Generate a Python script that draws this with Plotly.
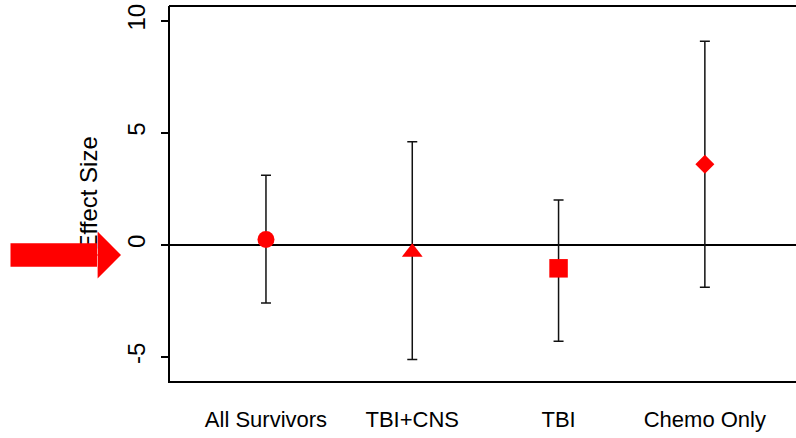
import plotly.graph_objects as go

groups = ["All Survivors", "TBI+CNS", "TBI", "Chemo Only"]
effect = [0.24, -0.33, -1.05, 3.6]
ci_low = [-2.6, -5.12, -4.3, -1.9]
ci_high = [3.11, 4.6, 2.0, 9.09]
symbols = ["circle", "triangle-up", "square", "diamond"]
sizes = [17, 18, 18.5, 14.6]
yticks = [-5, 0, 5, 10]

FONT = "Liberation Sans Narrow, Arial Narrow, Liberation Sans, Arial, sans-serif"
pos = list(range(1, len(groups) + 1))

fig = go.Figure()
fig.add_trace(go.Scatter(
    x=pos, y=effect, mode="markers",
    marker=dict(symbol=symbols, size=sizes, color="#FF0000", opacity=1, line=dict(width=0)),
    error_y=dict(type="data", symmetric=False,
                 array=[h - e for h, e in zip(ci_high, effect)],
                 arrayminus=[e - l for e, l in zip(effect, ci_low)],
                 color="#111111", thickness=1.5, width=5),
    showlegend=False, cliponaxis=False,
))

fig.update_layout(
    width=796, height=438,
    margin=dict(l=170, r=0, t=6, b=57, autoexpand=False),
    paper_bgcolor="white", plot_bgcolor="white",
    font=dict(family=FONT, color="black", size=22),
    xaxis=dict(range=[0.344, 4.623], tickvals=pos, ticktext=groups, automargin=False,
               showgrid=False, zeroline=False, showline=True, linecolor="black",
               linewidth=2, ticks="", ticklabelstandoff=18,
               tickfont=dict(family=FONT, size=22)),
    yaxis=dict(range=[-6.08, 10.66], tickvals=yticks, ticktext=[str(v) for v in yticks],
               automargin=False,
               showgrid=False, zeroline=True, zerolinecolor="black", zerolinewidth=1.5,
               showline=True, linecolor="black", linewidth=2,
               ticks="outside", ticklen=7, tickwidth=1.5, tickcolor="black",
               tickangle=-90, ticklabelstandoff=6,
               tickfont=dict(family=FONT, size=24)),
    shapes=[dict(type="line", xref="paper", yref="paper", x0=-0.0016, x1=1.01, y0=1, y1=1,
                 line=dict(color="black", width=2))],
    annotations=[
        dict(text="Effect Size", xref="paper", yref="paper", x=(88 - 170) / 626, y=0.5,
             xanchor="center", yanchor="middle", textangle=-90, showarrow=False,
             font=dict(family=FONT, size=24, color="black")),
        dict(text="", xref="paper", yref="paper", x=(97 - 170) / 626, y=(381 - 255) / 375,
             showarrow=True, arrowhead=0, arrowwidth=23.4, arrowcolor="#FF0000",
             ax=-88, ay=0, standoff=0),
        dict(text="", xref="paper", yref="paper", x=(121 - 170) / 626, y=(381 - 255) / 375,
             showarrow=True, arrowhead=1, arrowwidth=1, arrowsize=7.8, arrowcolor="#FF0000",
             ax=-50, ay=0, standoff=0),
    ],
)

fig.write_html("out.html")
